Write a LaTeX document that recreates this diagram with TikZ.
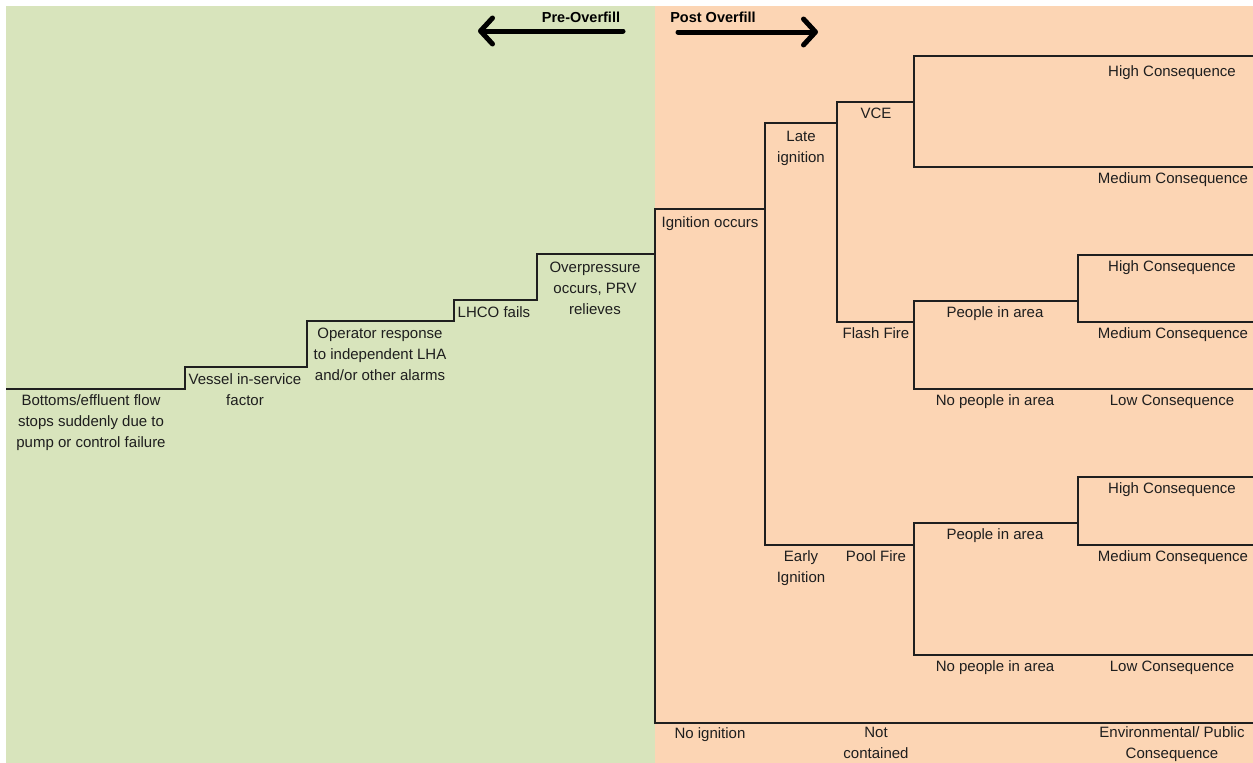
\documentclass[tikz,border=0pt]{standalone}
\usepackage{fontspec}
\setmainfont{Liberation Sans}
\usetikzlibrary{arrows.meta}
\definecolor{preGreen}{HTML}{D8E4BC}
\definecolor{postOrange}{HTML}{FCD5B4}
\definecolor{ink}{HTML}{1E1E1E}
\tikzset{
  lbl/.style={anchor=base, inner sep=0pt, align=center, text=ink,
              font=\fontsize{15}{21}\selectfont},
  ttl/.style={anchor=base, inner sep=0pt, text=black,
              font=\bfseries\fontsize{14.5}{17}\selectfont},
  branch/.style={draw=black!88, line width=1.3pt},
  bigarrow/.style={line width=5pt, line cap=round,
                   -{Straight Barb[length=12pt,width=26pt,round]}}
}
\begin{document}
\begin{tikzpicture}[x=1pt,y=-1pt]
\useasboundingbox (0,0) rectangle (1253,763);
% backgrounds
\fill[preGreen] (6,6) rectangle (655,763);
\fill[postOrange] (655,6) rectangle (1253,763);

% title arrows
\coordinate (preS) at (623,31);  \coordinate (preE) at (478,31);
\coordinate (postS) at (678,32); \coordinate (postE) at (818,32);
\draw[bigarrow] (preS) -- (preE);
\draw[bigarrow] (postS) -- (postE);
\node[ttl] (preT) at (581,22) {Pre-Overfill};
\node[ttl] (postT) at (713,22) {Post Overfill};

% pre-overfill staircase
\coordinate (s0) at (6,389);
\coordinate (s1) at (185,367);
\coordinate (s2) at (307,321);
\coordinate (s3) at (454,300);
\coordinate (s4) at (537,254);
\coordinate (root) at (655,254);
\draw[branch] (s0) -| (s1) -| (s2) -| (s3) -| (s4) -- (root);

% post-overfill tree
\coordinate (ig) at (765,209);
\coordinate (noigL) at (655,723);
\coordinate (noigR) at (1253,723);
\draw[branch] (ig) -| (noigL) -- (noigR);

\coordinate (late) at (837,123);
\coordinate (earlyL) at (765,545);
\coordinate (pool) at (914,545);
\draw[branch] (late) -| (earlyL) -- (pool);

\coordinate (vce) at (914,102);
\coordinate (ffL) at (837,322);
\coordinate (ff) at (914,322);
\draw[branch] (vce) -| (ffL) -- (ff);

\coordinate (vceHi) at (1253,56);
\coordinate (vceMedL) at (914,167);
\coordinate (vceMed) at (1253,167);
\draw[branch] (vceHi) -| (vceMedL) -- (vceMed);

\coordinate (ffP) at (1078,301);
\coordinate (ffNoL) at (914,389);
\coordinate (ffNo) at (1253,389);
\draw[branch] (ffP) -| (ffNoL) -- (ffNo);

\coordinate (ffHi) at (1253,255);
\coordinate (ffMedL) at (1078,322);
\coordinate (ffMed) at (1253,322);
\draw[branch] (ffHi) -| (ffMedL) -- (ffMed);

\coordinate (pfP) at (1078,523);
\coordinate (pfNoL) at (914,655);
\coordinate (pfNo) at (1253,655);
\draw[branch] (pfP) -| (pfNoL) -- (pfNo);

\coordinate (pfHi) at (1253,477);
\coordinate (pfMedL) at (1078,545);
\coordinate (pfMed) at (1253,545);
\draw[branch] (pfHi) -| (pfMedL) -- (pfMed);

% pre-overfill labels (base = baseline of the last line)
\node[lbl] (t1) at (91,447) {Bottoms/effluent flow\\stops suddenly due to\\pump or control failure};
\node[lbl] (t2) at (245,405) {Vessel in-service\\factor};
\node[lbl] (t3) at (380,380) {Operator response\\to independent LHA\\and/or other alarms};
\node[lbl] (t4) at (494,317) {LHCO fails};
\node[lbl] (t5) at (595,314) {Overpressure\\occurs, PRV\\relieves};

% post-overfill labels
\node[lbl] (l1) at (710,227) {Ignition occurs};
\node[lbl] (l2) at (801,162) {Late\\ignition};
\node[lbl] (l3) at (876,118) {VCE};
\node[lbl] (c1) at (1172,76) {High Consequence};
\node[lbl] (c2) at (1173,183) {Medium Consequence};
\node[lbl] (c3) at (1172,271) {High Consequence};
\node[lbl] (l4) at (876,338) {Flash Fire};
\node[lbl] (l5) at (995,317) {People in area};
\node[lbl] (c4) at (1173,338) {Medium Consequence};
\node[lbl] (l6) at (995,405) {No people in area};
\node[lbl] (c5) at (1172,405) {Low Consequence};
\node[lbl] (c6) at (1172,493) {High Consequence};
\node[lbl] (l7) at (995,539) {People in area};
\node[lbl] (l8) at (801,582) {Early\\Ignition};
\node[lbl] (l9) at (876,561) {Pool Fire};
\node[lbl] (c7) at (1173,561) {Medium Consequence};
\node[lbl] (l10) at (995,671) {No people in area};
\node[lbl] (c8) at (1172,671) {Low Consequence};
\node[lbl] (l11) at (710,738) {No ignition};
\node[lbl] (l12) at (876,758) {Not\\contained};
\node[lbl] (c9) at (1172,758) {Environmental/ Public\\Consequence};
\end{tikzpicture}
\end{document}
